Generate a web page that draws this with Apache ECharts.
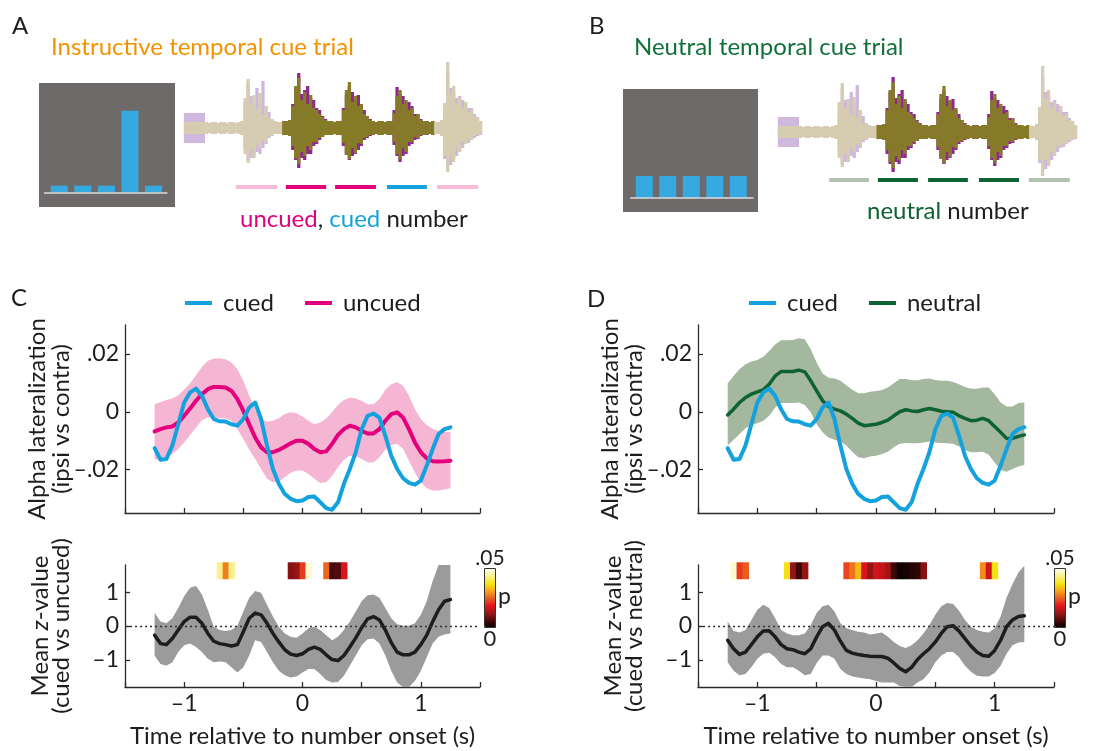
<!DOCTYPE html>
<html><head><meta charset="utf-8">
<script src="https://cdn.jsdelivr.net/npm/echarts@6/dist/echarts.min.js"></script>
<style>html,body{margin:0;padding:0;background:#fff}#c{width:1111px;height:751px}</style>
</head><body><div id="c"></div>
<script>
// ---------------- DATA ----------------
const time = [-1.25,-1.2,-1.15,-1.1,-1.05,-1.0,-0.95,-0.9,-0.85,-0.8,-0.75,-0.7,-0.65,-0.6,-0.55,-0.5,-0.45,-0.4,-0.35,-0.3,-0.25,-0.2,-0.15,-0.1,-0.05,0,0.05,0.1,0.15,0.2,0.25,0.3,0.35,0.4,0.45,0.5,0.55,0.6,0.65,0.7,0.75,0.8,0.85,0.9,0.95,1.0,1.05,1.1,1.15,1.2,1.25];

const cuedLat = [-0.0126,-0.0166,-0.0163,-0.0117,-0.0043,0.0032,0.0067,0.0080,0.0055,0.0009,-0.0025,-0.0033,-0.0034,-0.0043,-0.0048,-0.0025,0.0015,0.0032,-0.0025,-0.0117,-0.0198,-0.0249,-0.0284,-0.0301,-0.0309,-0.0307,-0.0295,-0.0293,-0.0313,-0.0333,-0.0339,-0.0313,-0.0249,-0.0198,-0.0140,-0.0060,-0.0014,-0.0006,-0.0020,-0.0083,-0.0152,-0.0198,-0.0230,-0.0246,-0.0252,-0.0238,-0.0186,-0.0129,-0.0077,-0.0060,-0.0054];
const uncuedLat = [-0.0068,-0.0060,-0.0054,-0.0051,-0.0037,-0.0014,0.0011,0.0038,0.0061,0.0078,0.0086,0.0086,0.0084,0.0072,0.0044,0.0003,-0.0043,-0.0089,-0.0123,-0.0140,-0.0140,-0.0132,-0.0121,-0.0109,-0.0100,-0.0100,-0.0111,-0.0129,-0.0140,-0.0137,-0.0111,-0.0080,-0.0060,-0.0048,-0.0054,-0.0066,-0.0075,-0.0075,-0.0060,-0.0031,-0.0008,-0.0002,-0.0020,-0.0060,-0.0106,-0.0140,-0.0161,-0.0171,-0.0172,-0.0171,-0.0169];
const uncuedHi = [0.0026,0.0034,0.0041,0.0046,0.0057,0.0076,0.0099,0.0126,0.0155,0.0176,0.0184,0.0185,0.0182,0.0170,0.0147,0.0107,0.0055,0.0009,-0.0025,-0.0034,-0.0031,-0.0022,-0.0008,-0.0002,-0.0005,-0.0016,-0.0031,-0.0043,-0.0037,-0.0023,-0.0002,0.0024,0.0041,0.0049,0.0046,0.0038,0.0026,0.0026,0.0044,0.0076,0.0095,0.0103,0.0090,0.0055,0.0009,-0.0025,-0.0046,-0.0060,-0.0066,-0.0069,-0.0071];
const uncuedLo = [-0.0166,-0.0163,-0.0154,-0.0146,-0.0129,-0.0106,-0.0080,-0.0054,-0.0029,-0.0020,-0.0020,-0.0022,-0.0023,-0.0031,-0.0060,-0.0094,-0.0131,-0.0163,-0.0198,-0.0232,-0.0244,-0.0241,-0.0226,-0.0211,-0.0203,-0.0203,-0.0215,-0.0232,-0.0246,-0.0244,-0.0221,-0.0192,-0.0166,-0.0152,-0.0154,-0.0163,-0.0175,-0.0175,-0.0157,-0.0131,-0.0115,-0.0111,-0.0129,-0.0169,-0.0211,-0.0244,-0.0264,-0.0272,-0.0272,-0.0269,-0.0264];
const neutralLat = [-0.0011,0.0009,0.0032,0.0049,0.0061,0.0069,0.0076,0.0095,0.0124,0.0139,0.0139,0.0139,0.0144,0.0138,0.0107,0.0072,0.0038,0.0018,0.0009,0.0003,-0.0008,-0.0023,-0.0039,-0.0048,-0.0046,-0.0043,-0.0037,-0.0029,-0.0014,0.0000,0.0007,0.0003,0.0001,0.0007,0.0011,0.0007,0.0002,0.0000,-0.0002,-0.0014,-0.0023,-0.0031,-0.0029,-0.0023,-0.0031,-0.0051,-0.0071,-0.0092,-0.0092,-0.0085,-0.0080];
const neutralHi = [0.0099,0.0124,0.0147,0.0164,0.0174,0.0179,0.0190,0.0210,0.0233,0.0247,0.0247,0.0248,0.0254,0.0251,0.0216,0.0170,0.0132,0.0118,0.0115,0.0107,0.0092,0.0076,0.0064,0.0064,0.0069,0.0072,0.0075,0.0084,0.0099,0.0113,0.0113,0.0109,0.0109,0.0113,0.0115,0.0110,0.0107,0.0107,0.0103,0.0095,0.0086,0.0080,0.0080,0.0084,0.0084,0.0061,0.0032,0.0018,0.0018,0.0030,0.0032];
const neutralLo = [-0.0117,-0.0097,-0.0077,-0.0057,-0.0046,-0.0040,-0.0031,-0.0014,0.0015,0.0030,0.0030,0.0030,0.0032,0.0023,-0.0002,-0.0043,-0.0071,-0.0089,-0.0097,-0.0103,-0.0117,-0.0138,-0.0157,-0.0161,-0.0155,-0.0152,-0.0146,-0.0138,-0.0123,-0.0111,-0.0108,-0.0109,-0.0109,-0.0106,-0.0103,-0.0106,-0.0108,-0.0109,-0.0111,-0.0120,-0.0132,-0.0140,-0.0140,-0.0138,-0.0149,-0.0175,-0.0201,-0.0207,-0.0198,-0.0189,-0.0184];

const zCued = [-0.27,-0.52,-0.55,-0.37,-0.12,0.13,0.26,0.26,0.08,-0.22,-0.45,-0.52,-0.55,-0.59,-0.55,-0.17,0.23,0.38,0.33,0.08,-0.22,-0.47,-0.70,-0.83,-0.87,-0.82,-0.69,-0.62,-0.69,-0.85,-0.99,-1.02,-0.87,-0.62,-0.35,-0.05,0.21,0.28,0.18,-0.12,-0.49,-0.77,-0.85,-0.85,-0.77,-0.55,-0.27,0.13,0.48,0.73,0.78];
const zCuedHi = [0.38,0.13,0.08,0.23,0.53,0.88,1.13,1.18,0.93,0.48,-0.02,-0.12,-0.15,-0.12,0.01,0.43,0.83,1.03,0.98,0.63,0.28,-0.02,-0.22,-0.32,-0.35,-0.22,-0.07,-0.02,-0.12,-0.27,-0.42,-0.32,-0.12,0.13,0.43,0.73,0.91,0.93,0.83,0.53,0.23,0.05,0.01,0.01,0.08,0.33,0.73,1.33,1.95,2.15,2.25];
const zCuedLo = [-0.87,-1.12,-1.17,-1.07,-0.77,-0.57,-0.52,-0.62,-0.77,-0.97,-1.07,-1.05,-1.07,-1.22,-1.37,-1.22,-0.87,-0.42,-0.47,-0.77,-1.07,-1.32,-1.45,-1.52,-1.49,-1.37,-1.27,-1.27,-1.42,-1.59,-1.67,-1.65,-1.47,-1.17,-0.87,-0.57,-0.39,-0.37,-0.52,-0.87,-1.32,-1.67,-1.82,-1.80,-1.62,-1.32,-0.92,-0.52,-0.32,-0.25,-0.22];
const zNeutral = [-0.42,-0.67,-0.84,-0.77,-0.55,-0.32,-0.15,-0.14,-0.32,-0.55,-0.67,-0.70,-0.77,-0.82,-0.67,-0.32,-0.02,0.08,-0.12,-0.45,-0.72,-0.80,-0.84,-0.87,-0.89,-0.90,-0.90,-0.95,-1.09,-1.25,-1.35,-1.22,-0.99,-0.82,-0.67,-0.47,-0.22,-0.02,0.01,-0.15,-0.37,-0.59,-0.77,-0.87,-0.89,-0.72,-0.42,-0.02,0.18,0.28,0.30];
const zNeutralHi = [0.13,-0.15,-0.19,-0.12,0.18,0.48,0.63,0.53,0.23,-0.12,-0.22,-0.27,-0.27,-0.22,0.03,0.38,0.58,0.63,0.43,0.08,-0.07,-0.12,-0.17,-0.19,-0.25,-0.22,-0.19,-0.32,-0.47,-0.59,-0.65,-0.57,-0.42,-0.22,0.03,0.33,0.58,0.68,0.65,0.45,0.18,-0.02,-0.12,-0.17,-0.19,-0.07,0.28,0.83,1.23,1.58,1.78];
const zNeutralLo = [-1.07,-1.32,-1.45,-1.42,-1.22,-0.97,-0.82,-0.79,-0.92,-1.12,-1.22,-1.22,-1.32,-1.45,-1.42,-1.09,-0.87,-0.87,-0.97,-1.27,-1.42,-1.49,-1.52,-1.55,-1.57,-1.62,-1.67,-1.67,-1.67,-1.77,-1.87,-1.82,-1.67,-1.57,-1.37,-1.07,-0.87,-0.77,-0.77,-0.92,-1.17,-1.35,-1.47,-1.49,-1.49,-1.39,-1.17,-0.82,-0.57,-0.49,-0.47];

// significance strips (time bin, p value)
const sigTimeC = [-0.7,-0.65,-0.6,-0.1,-0.05,0,0.05,0.2,0.25,0.3,0.35];
const sigPC    = [0.044,0.028,0.044,0.011,0.012,0.022,0.048,0.026,0.006,0.007,0.018];
const sigTimeD = [-1.2,-1.15,-1.1,-0.75,-0.7,-0.65,-0.6,-0.25,-0.2,-0.15,-0.1,-0.05,0,0.05,0.1,0.15,0.2,0.25,0.3,0.35,0.4,0.9,0.95,1.0];
const sigPD    = [0.048,0.022,0.025,0.037,0.012,0.005,0.012,0.023,0.027,0.033,0.018,0.012,0.017,0.016,0.013,0.005,0.001,0.002,0.003,0.004,0.011,0.029,0.017,0.037];

// temporal cue displays (probability of each number position)
const cuePositions = [1,2,3,4,5];
const cueProbA = [0.061,0.061,0.061,0.743,0.061];
const cueProbB = [0.2,0.2,0.2,0.2,0.2];

// sound waveform envelopes (100 samples; amplitude up / down)
const waveFrontUp   = [6,6,6,6,6,6,6, 6,5,6,6,5,6,6,5,6,6,5,6,7, 30,49,24,33,18,35,14,22,10,9,7, 6,6, 7,7,8, 22,42,50,28,36,24,33,20,18,14,11,8, 7,7,6,7,7, 18,38,46,26,32,22,24,14,12,8, 7,6,7,7,6,7,7, 15,32,38,24,28,18,20,12,14,8, 7,7,6,7, 6,6,8, 25,66,34,42,24,30,20,26,16,18,12,10,7];
const waveFrontDown = [6,6,6,6,6,6,6, 6,5,6,6,5,6,6,5,6,6,5,6,7, 26,35,22,30,16,20,12,14,8,7,6, 6,6, 7,7,8, 18,30,36,24,28,18,22,14,14,10,9,7, 7,7,6,7,7, 15,27,31,20,25,15,16,10,9,7, 7,6,7,7,6,7,7, 14,26,31,20,24,14,14,9,10,7, 7,7,6,7, 6,6,8, 28,44,28,34,20,24,14,16,11,12,8,7,6];
const waveBackUp    = [15,15,15,15,15,15,15, 6,5,6,6,5,6,6,5,6,6,5,6,7, 26,44,32,28,40,26,47,22,16,9,7, 6,6, 7,7,8, 24,40,55,34,38,42,30,28,20,18,12,9, 7,7,6,7,7, 20,33,41,36,30,33,22,18,12,9, 7,6,7,7,6,7,7, 18,41,34,32,26,26,22,14,14,9, 7,7,6,7, 6,6,8, 22,56,40,36,30,32,28,26,20,20,14,11,7];
const waveBackDown  = [15,15,15,15,15,15,15, 6,5,6,6,5,6,6,5,6,6,5,6,7, 22,32,30,26,24,26,20,16,10,8,6, 6,6, 7,7,8, 22,32,40,30,32,26,26,18,16,12,9,7, 7,7,6,7,7, 18,26,32,28,26,22,18,12,10,8, 7,6,7,7,6,7,7, 17,28,34,28,26,18,16,12,11,8, 7,7,6,7, 6,6,8, 31,38,37,30,28,22,20,16,15,12,10,8,7];
const numberSegment = [33, 84];   // samples belonging to the three middle numbers
// number markers under the waveforms (start, end in samples)
const dashStartA = [17.4,34.2,50.7,68.1,84.9];
const dashEndA   = [31.2,47.7,64.4,81.5,98.7];
const dashStartB = [17.1,33.4,50.2,67.2,83.9];
const dashEndB   = [30.4,46.8,63.5,80.6,97.6];

// ---------------- STYLE ----------------
const FONT = 'Lato, "Open Sans", "Noto Sans", sans-serif';
const INK = '#1d1d1b';
const C = {
  cued:'#14a2de', uncued:'#e4007c', uncuedBand:'#f4b6d3', uncuedLight:'#f7bdd8',
  neutral:'#0d6331', neutralBand:'#a4b79f', neutralLight:'#b2c3ae',
  zBand:'#9b9b9b', z:'#1d1d1b', orange:'#f39200', green:'#11703a',
  box:'#6e6a69', cueBar:'#36a9e1', tan:'#d6cdb0', olive:'#867b26', lilac:'#cfb8de', plum:'#8e2a8c'
};
const hot = ['#000000','#4a0a0a','#9b1515','#e3141c','#ea5b1e','#f7a51c','#f5e50f','#fbef8a','#fffdf0'];
const STRIP_TOP = 1.88, STRIP_BOTTOM = 1.38, HALF_BIN = 0.025;

const fmtX = v => Number.isInteger(v) ? (v < 0 ? '\u2013' + Math.abs(v) : String(v)) : '';
const fmtLat = v => v === 0 ? '0' : (v < 0 ? '\u2013' : '') + Math.abs(v).toFixed(2).replace(/^0/, '');
const fmtZ = v => v < 0 ? '\u2013' + Math.abs(v) : String(v);

const pair = ys => time.map((t, i) => [t, ys[i]]);
const series = [];
const add = s => { series.push(s); return series.length - 1; };

// confidence band drawn as one polygon through the axis scales
function band(g, lo, hi, color, yMin, yMax) {
  const clamp = v => Math.max(yMin, Math.min(yMax, v));
  add({type:'custom', xAxisIndex:g, yAxisIndex:g, silent:true, z:1, clip:true,
    data: time.map((t, i) => [t, lo[i], hi[i]]), encode:{x:0, y:[1, 2]},
    renderItem:(params, api) => {
      if (params.dataIndex !== 0) return null;
      const up = time.map((t, i) => api.coord([t, clamp(hi[i])]));
      const dn = time.map((t, i) => api.coord([t, clamp(lo[i])])).reverse();
      return {type:'polygon', shape:{points:up.concat(dn)}, style:{fill:color}};
    }});
}
function line(g, name, ys, color, width, extra) {
  return add(Object.assign({type:'line', name, xAxisIndex:g, yAxisIndex:g, data:pair(ys), symbol:'none',
    lineStyle:{color, width, join:'round', cap:'round'}, itemStyle:{color}, z:3, silent:true}, extra || {}));
}
function strip(g, ts, ps) {
  return add({type:'custom', xAxisIndex:g, yAxisIndex:g, data:ts.map((t, i) => [t, ps[i]]), encode:{x:0, y:1}, silent:true, z:2,
    renderItem:(params, api) => {
      const a = api.coord([api.value(0) - HALF_BIN, STRIP_TOP]);
      const b = api.coord([api.value(0) + HALF_BIN, STRIP_BOTTOM]);
      return {type:'rect', shape:{x:a[0], y:a[1], width:b[0] - a[0] + 0.6, height:b[1] - a[1]}, style:{fill:api.visual('color')}};
    }});
}
const zeroLine = {silent:true, symbol:['none','none'], label:{show:false}, lineStyle:{type:[2,3], color:'#333', width:1.3}, data:[{yAxis:0}]};

// ---------------- GRIDS ----------------
const grids = [
  {left:125, top:325, width:355, height:188},   // 0 C top
  {left:125, top:565, width:355, height:122},   // 1 C bottom
  {left:698, top:325, width:356, height:188},   // 2 D top
  {left:698, top:565, width:356, height:122},   // 3 D bottom
  {left:39, top:83, width:136, height:124, show:true, backgroundColor:C.box, borderWidth:0},   // 4 A cue box
  {left:623, top:89, width:135, height:123, show:true, backgroundColor:C.box, borderWidth:0},  // 5 B cue box
  {left:184, top:58, width:298, height:140},    // 6 A waveform
  {left:778, top:62, width:299, height:140}     // 7 B waveform
];
const axLine = {show:true, onZero:false, lineStyle:{color:'#2b2b2b', width:1.3}};
const axTick = {show:true, inside:true, length:5, lineStyle:{color:'#2b2b2b', width:1.3}};
function timeAxis(g, labels) {
  return {type:'value', gridIndex:g, min:-1.5, max:1.5, interval:0.5, axisLine:axLine, axisTick:axTick, splitLine:{show:false},
    axisLabel:{show:labels, formatter:fmtX, fontSize:23, color:INK, margin:5, fontFamily:FONT},
    name: labels ? 'Time relative to number onset (s)' : '', nameLocation:'middle', nameGap:37,
    nameTextStyle:{fontSize:24, color:INK, fontFamily:FONT}};
}
function latAxis(g) {
  return {type:'value', gridIndex:g, min:-0.035, max:0.03, axisLine:axLine,
    axisTick:Object.assign({customValues:[-0.02, 0, 0.02]}, axTick), splitLine:{show:false},
    axisLabel:{customValues:[-0.02, 0, 0.02], formatter:fmtLat, fontSize:23, color:INK, margin:6, fontFamily:FONT}};
}
function zAxis(g) {
  return {type:'value', gridIndex:g, min:-1.8, max:1.8, axisLine:axLine,
    axisTick:Object.assign({customValues:[-1, 0, 1]}, axTick), splitLine:{show:false},
    axisLabel:{customValues:[-1, 0, 1], formatter:fmtZ, fontSize:23, color:INK, margin:6, fontFamily:FONT}};
}
const hidden = (g, min, max) => ({type:'value', gridIndex:g, min, max, show:false, splitLine:{show:false}});

const xAxes = [timeAxis(0, false), timeAxis(1, true), timeAxis(2, false), timeAxis(3, true),
  hidden(4, 0.14, 5.91), hidden(5, 0.094, 5.84), hidden(6, 0, 100), hidden(7, 0, 100)];
const yAxes = [latAxis(0), zAxis(1), latAxis(2), zAxis(3),
  hidden(4, -0.133, 0.995), hidden(5, -0.127, 0.991), hidden(6, -70, 70), hidden(7, -70, 70)];

// ---------------- SERIES ----------------
band(0, uncuedLo, uncuedHi, C.uncuedBand, -0.035, 0.03);
line(0, 'uncued', uncuedLat, C.uncued, 4);
line(0, 'cued', cuedLat, C.cued, 4);

band(1, zCuedLo, zCuedHi, C.zBand, -1.8, 1.8);
line(1, 'zC', zCued, C.z, 3.5, {markLine:zeroLine});
const stripC = strip(1, sigTimeC, sigPC);

band(2, neutralLo, neutralHi, C.neutralBand, -0.035, 0.03);
line(2, 'neutral', neutralLat, C.neutral, 3.5);
line(2, 'cued', cuedLat, C.cued, 4);

band(3, zNeutralLo, zNeutralHi, C.zBand, -1.8, 1.8);
line(3, 'zD', zNeutral, C.z, 3.5, {markLine:zeroLine});
const stripD = strip(3, sigTimeD, sigPD);

function cueBars(g, probs, lineFrom, lineTo) {
  add({type:'bar', xAxisIndex:g, yAxisIndex:g, data:cuePositions.map((p, i) => [p, probs[i]]), barWidth:17,
    itemStyle:{color:C.cueBar}, silent:true, z:3,
    markLine:{silent:true, symbol:['none','none'], label:{show:false}, lineStyle:{type:'solid', color:'#dcdcdc', width:1.5},
      data:[[{coord:[lineFrom, 0]}, {coord:[lineTo, 0]}]]}});
}
cueBars(4, cueProbA, 0.35, 5.59);
cueBars(5, cueProbB, 0.40, 5.65);

const inNumber = i => i >= numberSegment[0] && i < numberSegment[1];
function wave(g, dashStart, dashEnd, dashY, dashColors) {
  const mk = (amps, sign, colIn, colOut) => add({type:'bar', xAxisIndex:g, yAxisIndex:g, barWidth:3.3, barGap:'-100%', silent:true, z:2,
    data: amps.map((a, i) => ({value:[i + 0.5, sign * a], itemStyle:{color: inNumber(i) ? colIn : colOut}}))});
  mk(waveBackUp, 1, C.plum, C.lilac);
  mk(waveBackDown, -1, C.plum, C.lilac);
  mk(waveFrontUp, 1, C.olive, C.tan);
  mk(waveFrontDown, -1, C.olive, C.tan);
  add({type:'custom', xAxisIndex:g, yAxisIndex:g, silent:true, z:3, encode:{x:[0,1], y:2},
    data: dashStart.map((s, i) => ({value:[s, dashEnd[i], dashY], itemStyle:{color:dashColors[i]}})),
    renderItem:(params, api) => {
      const a = api.coord([api.value(0), api.value(2)]), b = api.coord([api.value(1), api.value(2)]);
      return {type:'line', shape:{x1:a[0], y1:a[1], x2:b[0], y2:b[1]}, style:{stroke:api.visual('color'), lineWidth:4}};
    }});
}
wave(6, dashStartA, dashEndA, -59, [C.uncuedLight, C.uncued, C.uncued, C.cued, C.uncuedLight]);
wave(7, dashStartB, dashEndB, -48, [C.neutralLight, C.neutral, C.neutral, C.neutral, C.neutralLight]);

// ---------------- TEXT ----------------
function txt(x, y, text, size, color, extra) {
  const st = Object.assign({text, font:`${size}px ${FONT}`, fill:color || INK, align:'left', verticalAlign:'middle',
    textAlign:'left', textVerticalAlign:'middle'}, (extra && extra.style) || {});
  return Object.assign({type:'text', x, y, silent:true, style:st}, extra && extra.rotation ? {rotation:extra.rotation} : {});
}
const rot = s => ({rotation:Math.PI / 2, style:Object.assign({align:'center', textAlign:'center'}, s || {})});
const ctr = {style:{align:'center', textAlign:'center'}};
const rich = size => `${size}px ${FONT}`;
const italicZ = {i:{font:`italic 24px ${FONT}`, fill:INK}};
const graphic = [
  txt(12, 26, 'A', 24), txt(589, 26, 'B', 24), txt(11, 298, 'C', 24), txt(587, 299, 'D', 24),
  txt(51, 47, 'Instructive temporal cue trial', 24, C.orange),
  txt(634, 47, 'Neutral temporal cue trial', 24, C.green),
  txt(240, 219, '{m|uncued}, {c|cued} number', 24, INK, {style:{rich:{m:{fill:C.uncued, font:rich(24)}, c:{fill:C.cued, font:rich(24)}}}}),
  txt(867, 211, '{g|neutral} number', 24, INK, {style:{rich:{g:{fill:C.neutral, font:rich(24)}}}}),
  txt(37, 419, 'Alpha lateralization', 24, INK, rot()),
  txt(61, 419, '(ipsi vs contra)', 24, INK, rot()),
  txt(40, 626, 'Mean {i|z}-value', 24, INK, rot({rich:italicZ})),
  txt(61, 626, '(cued vs uncued)', 24, INK, rot()),
  txt(610, 419, 'Alpha lateralization', 24, INK, rot()),
  txt(634, 419, '(ipsi vs contra)', 24, INK, rot()),
  txt(613, 626, 'Mean {i|z}-value', 24, INK, rot({rich:italicZ})),
  txt(634, 626, '(cued vs neutral)', 24, INK, rot()),
  // colour bar labels and outlines
  txt(490, 558, '.05', 21, INK, ctr), txt(490, 639, '0', 22, INK, ctr), txt(498, 597, 'p', 23),
  txt(1060, 558, '.05', 21, INK, ctr), txt(1060, 639, '0', 22, INK, ctr), txt(1068, 597, 'p', 23),
  {type:'rect', silent:true, z:100, shape:{x:484.5, y:568.5, width:11, height:59}, style:{fill:'none', stroke:'#333', lineWidth:1}},
  {type:'rect', silent:true, z:100, shape:{x:1054.5, y:568.5, width:11, height:59}, style:{fill:'none', stroke:'#333', lineWidth:1}}
];

// ---------------- OPTION ----------------
const legendBase = {icon:'rect', itemWidth:27, itemHeight:4, itemGap:31, padding:0, selectedMode:false,
  textStyle:{fontSize:24, color:INK, fontFamily:FONT, padding:[0,0,0,6]}};
const vmBase = {type:'continuous', min:0, max:0.05, dimension:1, itemWidth:11, itemHeight:59, text:null,
  calculable:false, hoverLink:false, padding:0, orient:'vertical', inRange:{color:hot}, showLabel:false};

const chart = echarts.init(document.getElementById('c'), null, {renderer:'canvas'});
chart.setOption({
  animation:false,
  backgroundColor:'#ffffff',
  textStyle:{fontFamily:FONT},
  grid:grids, xAxis:xAxes, yAxis:yAxes,
  legend:[
    Object.assign({data:['cued','uncued'], left:185, top:291}, legendBase),
    Object.assign({data:['cued','neutral'], left:749, top:291}, legendBase)
  ],
  visualMap:[
    Object.assign({seriesIndex:stripC, left:485, top:569}, vmBase),
    Object.assign({seriesIndex:stripD, left:1055, top:569}, vmBase)
  ],
  series, graphic
});
</script></body></html>
